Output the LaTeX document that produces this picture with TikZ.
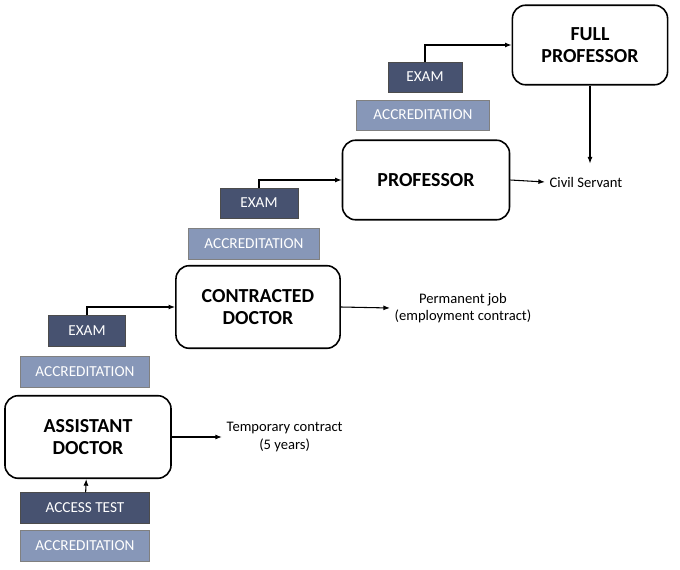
\documentclass[tikz,border=0pt]{standalone}
\usepackage{fontspec}
\setmainfont{Carlito}
\usetikzlibrary{arrows.meta}
\definecolor{darkslate}{HTML}{475270}
\definecolor{lightslate}{HTML}{8797B8}
\tikzset{
    stage/.style={draw, very thick, rounded corners=10pt, align=center, font=\fontsize{15}{17}\selectfont\bfseries, inner sep=0pt},
    darkbox/.style={fill=darkslate, draw=black!70, text=white, font=\fontsize{11.5}{13}\selectfont, inner sep=0pt},
    lightbox/.style={fill=lightslate, draw=black!50, text=white, font=\fontsize{11.5}{13}\selectfont, inner sep=0pt},
    note/.style={align=center, font=\fontsize{11}{13}\selectfont},
    arr/.style={thick, -{Latex[length=5pt]}}
}
\begin{document}
\begin{tikzpicture}[x=0.0265cm, y=-0.0265cm]
    \useasboundingbox (0,0) rectangle (680,570);
    % stages
    \node [stage, minimum width=167*0.75pt, minimum height=83*0.75pt] (assistant) at (88,437) {ASSISTANT\\DOCTOR};
    \node [stage, minimum width=165*0.75pt, minimum height=83*0.75pt] (contracted) at (258,307) {CONTRACTED\\DOCTOR};
    \node [stage, minimum width=168*0.75pt, minimum height=80*0.75pt] (professor) at (426,180) {PROFESSOR};
    \node [stage, minimum width=156*0.75pt, minimum height=80*0.75pt] (full) at (590,45) {FULL\\PROFESSOR};
    % requirements
    \node [lightbox, minimum width=130*0.75pt, minimum height=31*0.75pt] (accr0) at (85,546) {ACCREDITATION};
    \node [darkbox, minimum width=130*0.75pt, minimum height=31*0.75pt] (test) at (85,508) {ACCESS TEST};
    \node [lightbox, minimum width=130*0.75pt, minimum height=31*0.75pt] (accr1) at (85,372) {ACCREDITATION};
    \node [darkbox, minimum width=77*0.75pt, minimum height=31*0.75pt] (exam1) at (87,331) {EXAM};
    \node [lightbox, minimum width=132*0.75pt, minimum height=31*0.75pt] (accr2) at (254,244) {ACCREDITATION};
    \node [darkbox, minimum width=78*0.75pt, minimum height=30*0.75pt] (exam2) at (259,203) {EXAM};
    \node [lightbox, minimum width=134*0.75pt, minimum height=30*0.75pt] (accr3) at (423,115) {ACCREDITATION};
    \node [darkbox, minimum width=74*0.75pt, minimum height=30*0.75pt] (exam3) at (425,77) {EXAM};
    % outcomes
    \node [note, anchor=west] (temporary) at (222,437) {Temporary contract\\(5 years)};
    \node [note, anchor=west] (permanent) at (390,308) {Permanent job\\(employment contract)};
    \node [note, anchor=west] (civil) at (545,182) {Civil Servant};
    % connectors
    \draw [arr] (test) -- (assistant);
    \draw [arr] (exam1.north) |- (contracted.west);
    \draw [arr] (exam2.north) |- (professor.west);
    \draw [arr] (exam3.north) |- (full.west);
    \draw [arr] (assistant.east) -- (temporary.west);
    \draw [arr] (contracted.east) -- (permanent.west);
    \draw [arr] (professor.east) -- (civil.west);
    \draw [arr] (full.south) -- ++(0,78);
\end{tikzpicture}
\end{document}
